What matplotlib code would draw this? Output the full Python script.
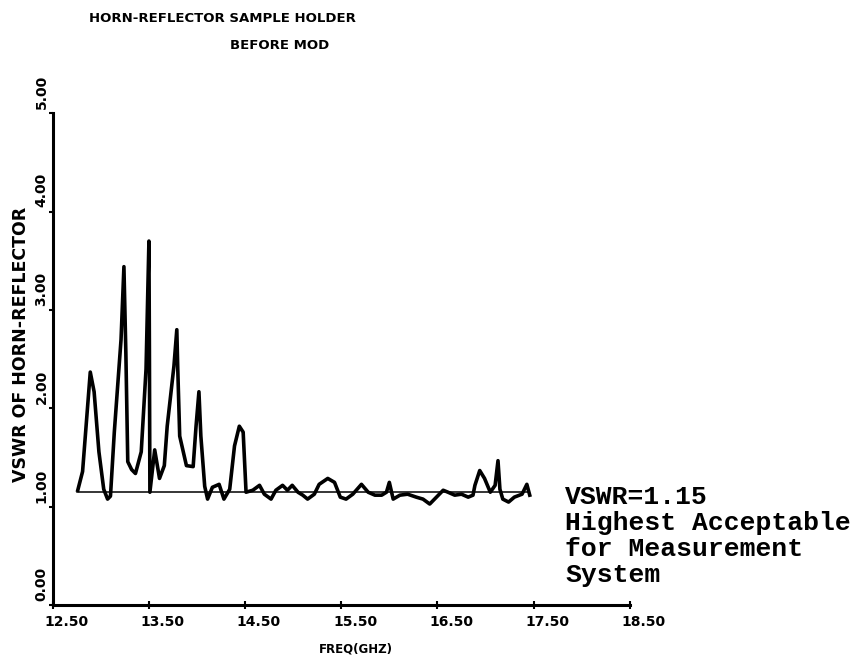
import numpy as np
import matplotlib.pyplot as plt

# VSWR trace
freq = [12.76, 12.81, 12.89, 12.93, 12.98, 13.03, 13.07, 13.10, 13.14, 13.21,
        13.24, 13.26, 13.28, 13.32, 13.36, 13.42, 13.47, 13.50, 13.505, 13.51,
        13.56, 13.61, 13.66, 13.69, 13.76, 13.79, 13.80, 13.82, 13.89, 13.96,
        13.99, 14.02, 14.04, 14.08, 14.11, 14.16, 14.23, 14.28, 14.34, 14.39,
        14.44, 14.48, 14.51, 14.58, 14.65, 14.70, 14.77, 14.82, 14.89, 14.94,
        14.99, 15.05, 15.10, 15.15, 15.22, 15.27, 15.36, 15.43, 15.49, 15.55,
        15.62, 15.71, 15.78, 15.85, 15.92, 15.97, 16.00, 16.04, 16.11, 16.19,
        16.28, 16.35, 16.42, 16.49, 16.56, 16.61, 16.68, 16.75, 16.82, 16.87,
        16.89, 16.94, 16.99, 17.05, 17.10, 17.13, 17.15, 17.18, 17.24, 17.30,
        17.38, 17.43, 17.46]
vswr = [1.17, 1.36, 2.37, 2.17, 1.56, 1.18, 1.08, 1.11, 1.76, 2.70,
        3.44, 2.57, 1.46, 1.38, 1.34, 1.56, 2.40, 3.70, 2.60, 1.15,
        1.58, 1.29, 1.42, 1.82, 2.43, 2.80, 2.40, 1.72, 1.42, 1.41,
        1.82, 2.17, 1.72, 1.21, 1.08, 1.20, 1.23, 1.08, 1.18, 1.62,
        1.82, 1.76, 1.15, 1.17, 1.22, 1.13, 1.08, 1.17, 1.22, 1.17,
        1.22, 1.15, 1.12, 1.08, 1.13, 1.23, 1.29, 1.25, 1.10, 1.08,
        1.13, 1.23, 1.15, 1.12, 1.12, 1.15, 1.25, 1.08, 1.12, 1.13,
        1.10, 1.08, 1.03, 1.10, 1.17, 1.15, 1.12, 1.13, 1.10, 1.12,
        1.22, 1.37, 1.29, 1.15, 1.22, 1.47, 1.18, 1.08, 1.05, 1.10,
        1.13, 1.23, 1.12]

limit_vswr = 1.15
limit_span = [12.75, 17.45]

xticks = [12.5, 13.5, 14.5, 15.5, 16.5, 17.5, 18.5]
yticks = [0, 1, 2, 3, 4, 5]

fig = plt.figure(figsize=(8.51, 6.61), dpi=100)
ax = fig.add_axes([0.062, 0.084, 0.678, 0.745])

ax.plot(limit_span, [limit_vswr, limit_vswr], color="black", lw=1.1)
ax.plot(freq, vswr, color="black", lw=2.6, solid_joinstyle="round")

ax.set_xlim(12.5, 18.5)
ax.set_ylim(0, 5)
ax.set_xticks(xticks)
ax.set_yticks(yticks)
ax.set_xticklabels([])
ax.set_yticklabels([])

# the plotter put x labels a bit right of the tick and y labels just above it
for t in xticks:
    ax.annotate("%.2f" % t, (t, 0), xytext=(10, -7), textcoords="offset points",
                ha="center", va="top", fontsize=10, fontweight="bold",
                annotation_clip=False)
for t in yticks:
    ax.annotate("%.2f" % t, (12.5, t), xytext=(-3, 3), textcoords="offset points",
                ha="right", va="bottom", rotation=90, fontsize=10,
                fontweight="bold", annotation_clip=False)

for side in ["top", "right"]:
    ax.spines[side].set_visible(False)
for side in ["left", "bottom"]:
    ax.spines[side].set_linewidth(2.2)
ax.tick_params(axis="x", direction="inout", length=6, width=1.5)
ax.tick_params(axis="y", direction="out", length=3, width=1.5)

ax.set_xlabel("FREQ(GHZ)", fontsize=8.5, fontweight="bold")
ax.xaxis.set_label_coords(0.525, -0.075)
ax.set_ylabel("VSWR OF HORN-REFLECTOR", fontsize=12.5, fontweight="bold")
ax.yaxis.set_label_coords(-0.04, 0.53)

fig.text(0.105, 0.972, "HORN-REFLECTOR SAMPLE HOLDER", fontsize=9.5,
         fontweight="bold", va="center")
fig.text(0.27, 0.931, "BEFORE MOD", fontsize=9.5, fontweight="bold", va="center")

fig.text(0.664, 0.189, "VSWR=1.15\nHighest Acceptable\nfor Measurement\nSystem",
         family="Liberation Mono", fontsize=19, fontweight="bold",
         va="center", ha="left", linespacing=1.1)

fig.savefig("out.png", dpi=100)
